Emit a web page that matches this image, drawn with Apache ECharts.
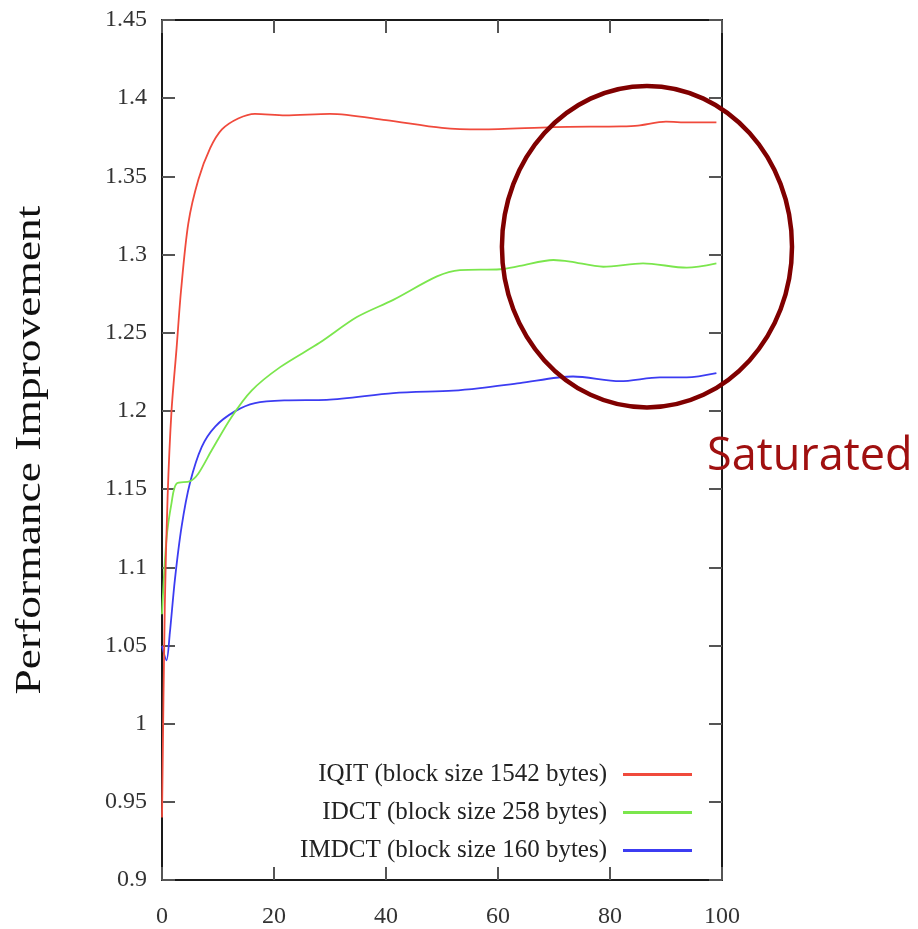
<!DOCTYPE html>
<html>
<head>
<meta charset="utf-8">
<script src="https://cdn.jsdelivr.net/npm/echarts@6/dist/echarts.min.js"></script>
<style>
  html, body { margin: 0; padding: 0; background: #fff; }
  #chart { width: 918px; height: 929px; }
</style>
</head>
<body>
<div id="chart"></div>
<script>
// 刻度
const xTicks = [0, 20, 40, 60, 80, 100];
const yTicks = [0.9, 0.95, 1, 1.05, 1.1, 1.15, 1.2, 1.25, 1.3, 1.35, 1.4, 1.45];

// IQIT (block size 1542 bytes)
const iqitX = [0, 0.5, 1, 1.7, 2.6, 3.4, 4.7, 6.5, 8.6, 10.7, 13.6, 16.6, 22, 30, 40, 50, 57, 70, 82, 85, 90, 94, 99];
const iqitY = [0.94, 1.075, 1.145, 1.2, 1.24, 1.277, 1.32, 1.348, 1.368, 1.38, 1.387, 1.39, 1.389, 1.39, 1.386, 1.381, 1.38, 1.3815, 1.382, 1.3825, 1.385, 1.3845, 1.3845];

// IDCT (block size 258 bytes)
const idctX = [0, 0.8, 1.7, 2.6, 5, 6.5, 8.9, 12.4, 16, 21.1, 28.2, 34.8, 41.3, 49.1, 53.2, 60.4, 63.9, 69.9, 72.9, 78.8, 85.9, 93.7, 99];
const idctY = [1.07, 1.118, 1.141, 1.1535, 1.155, 1.16, 1.175, 1.196, 1.213, 1.228, 1.2437, 1.26, 1.271, 1.286, 1.29, 1.2906, 1.2927, 1.2965, 1.2955, 1.2922, 1.2944, 1.2916, 1.2944];

// IMDCT (block size 160 bytes)
const imdctX = [0, 0.8, 1.4, 2.3, 3.5, 5, 7.1, 9.5, 13, 16.6, 22, 29.4, 41.3, 52, 56.8, 63.9, 73.4, 81.8, 88.9, 93.7, 99];
const imdctY = [1.0496, 1.0405, 1.058, 1.092, 1.126, 1.154, 1.177, 1.19, 1.1997, 1.205, 1.2067, 1.207, 1.2114, 1.213, 1.2146, 1.2178, 1.222, 1.219, 1.2214, 1.2214, 1.2241];

const seriesNames = ['IQIT (block size 1542 bytes)', 'IDCT (block size 258 bytes)', 'IMDCT (block size 160 bytes)'];
const seriesColors = ['#f04a3c', '#7be64d', '#3c3cf2'];

const zip = (xs, ys) => xs.map((x, i) => [x, ys[i]]);

const serif = 'Liberation Serif, Times New Roman, serif';

const chart = echarts.init(document.getElementById('chart'));

const axisCommon = {
    type: 'value',
    axisLine: { show: true, onZero: false, lineStyle: { color: '#1a1a1a', width: 2 } },
    axisTick: { show: true, inside: true, length: 13, lineStyle: { color: '#555', width: 2 } },
    splitLine: { show: false }
};

const option = {
    backgroundColor: '#fff',
    animation: false,
    grid: { left: 162, right: 196, top: 20, bottom: 48 },
    legend: {
        orient: 'vertical',
        align: 'right',
        right: 221,
        top: 757,
        itemWidth: 69,
        itemHeight: 3,
        itemGap: 13,
        icon: 'rect',
        data: seriesNames,
        textStyle: { fontFamily: serif, fontSize: 25, color: '#222', padding: [0, 11, 0, 0] }
    },
    xAxis: [
        Object.assign({}, axisCommon, {
            min: 0, max: 100, interval: 20, position: 'bottom',
            axisLabel: {
                margin: 25, fontFamily: serif, fontSize: 24, color: '#333',
                formatter: v => xTicks.includes(v) ? String(v) : ''
            }
        }),
        Object.assign({}, axisCommon, {
            min: 0, max: 100, interval: 20, position: 'top',
            axisLabel: { show: false }
        })
    ],
    yAxis: [
        Object.assign({}, axisCommon, {
            min: 0.9, max: 1.45, interval: 0.05, position: 'left',
            axisLabel: {
                margin: 15, fontFamily: serif, fontSize: 24, color: '#333',
                formatter: v => {
                    const t = yTicks.find(k => Math.abs(k - v) < 1e-6);
                    return t === undefined ? '' : String(t);
                }
            }
        }),
        Object.assign({}, axisCommon, {
            min: 0.9, max: 1.45, interval: 0.05, position: 'right',
            axisLabel: { show: false }
        })
    ],
    series: [
        { name: seriesNames[0], data: zip(iqitX, iqitY) },
        { name: seriesNames[1], data: zip(idctX, idctY) },
        { name: seriesNames[2], data: zip(imdctX, imdctY) }
    ].map((s, i) => Object.assign(s, {
        type: 'line',
        smooth: 0.3,
        symbol: 'none',
        color: seriesColors[i],
        lineStyle: { width: 1.8, color: seriesColors[i] },
        z: 3 - i
    }))
};

chart.setOption(option);

// 饱和区域的标注（椭圆 + 文字）
const center = chart.convertToPixel({ gridIndex: 0 }, [86.6, 1.305]);
const edge = chart.convertToPixel({ gridIndex: 0 }, [86.6 + 25.9, 1.305 + 0.1028]);

chart.setOption({
    graphic: [
        {
            type: 'text',
            x: 31, y: 450,
            rotation: Math.PI / 2,
            scaleX: 1.3,
            style: {
                text: 'Performance Improvement',
                font: '35px ' + serif,
                fill: '#111',
                align: 'center',
                verticalAlign: 'middle'
            }
        },
        {
            type: 'ellipse',
            shape: { cx: center[0], cy: center[1], rx: edge[0] - center[0], ry: center[1] - edge[1] },
            style: { fill: 'none', stroke: '#800000', lineWidth: 4.5 },
            z: 10
        },
        {
            type: 'text',
            x: 707, y: 435,
            style: {
                text: 'Saturated',
                font: '45px Open Sans, Noto Sans, sans-serif',
                fill: '#a01010',
                align: 'left',
                verticalAlign: 'alphabetic'
            },
            z: 10
        }
    ]
});
</script>
</body>
</html>
